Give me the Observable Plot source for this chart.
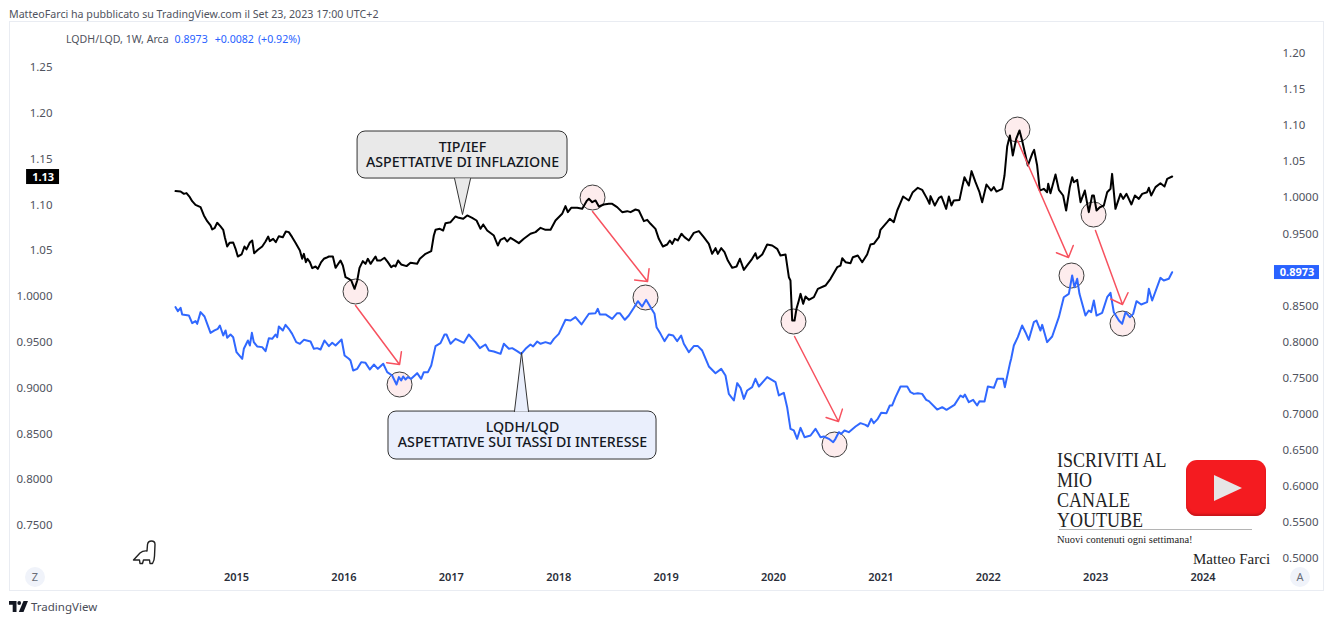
<!DOCTYPE html>
<html><head><meta charset="utf-8">
<script src="https://cdn.jsdelivr.net/npm/d3@7"></script>
<script src="https://cdn.jsdelivr.net/npm/@observablehq/plot@0.6"></script>
<style>
html,body{margin:0;padding:0;background:#fff;width:1332px;height:623px;overflow:hidden}
body{position:relative;font-family:"Noto Sans",sans-serif}
.abs{position:absolute;white-space:nowrap}
#chart{position:absolute;left:10px;top:22px;width:1313px;height:568px;outline:1px solid #e9ecf2}
#chart svg{display:block}
.serif{font-family:"Liberation Serif",serif;color:#222}
.round{width:20px;height:20px;border-radius:50%;background:#f0f3fa;color:#6a6d78;font-size:11px;text-align:center;line-height:20px}
</style></head><body>
<div class="abs" style="left:9px;top:6px;font-size:10.65px;line-height:16px;color:#50535e">MatteoFarci ha pubblicato su TradingView.com il Set 23, 2023 17:00 UTC+2</div>
<div id="chart"></div>
<div class="abs" style="left:66px;top:31px;font-size:10.6px;line-height:16px;color:#50535e">LQDH/LQD, 1W, Arca<span style="color:#2962ff;margin-left:6px">0.8973</span><span style="color:#2962ff;margin-left:7px">+0.0082</span><span style="color:#2962ff;margin-left:4px">(+0.92%)</span></div>
<div class="abs round" style="left:25px;top:567px">Z</div>
<div class="abs round" style="left:1290px;top:567px">A</div>
<svg class="abs" style="left:132px;top:540px" width="26" height="26" viewBox="0 0 26 26" fill="none" stroke="#222" stroke-width="1.4" stroke-linejoin="round"><path d="M1.5 20 L8 13 Q11 10.5 15 11 L15.5 4.5 Q16 1 19.5 1 Q23 1 23 4.5 L22.5 16 Q22.5 20 20.5 23.5 L18 23.5 L17.5 20 L11.5 20 L10.5 23.5 L8 23.5 L7.5 20 Z"/></svg>
<div class="abs serif" style="left:1057px;top:450px;font-size:20px;line-height:20px;transform:scaleX(.9);transform-origin:left top">ISCRIVITI AL<br>MIO<br>CANALE<br>YOUTUBE</div>
<div class="abs" style="left:1059px;top:529px;width:193px;height:1px;background:#b4b4b4"></div>
<div class="abs serif" style="left:1057px;top:533px;font-size:10.5px;line-height:14px">Nuovi contenuti ogni settimana!</div>
<div class="abs serif" style="left:1193px;top:550px;font-size:15px;line-height:18px">Matteo Farci</div>
<div class="abs" style="left:1186px;top:460px;width:80px;height:56px;border-radius:11px;background:#f41b20;box-shadow:inset 0 -2px 2px #c9151a"></div>
<div class="abs" style="left:1214px;top:475px;width:28px;height:26px;background:#e6e6e6;clip-path:polygon(0 0,100% 50%,0 100%)"></div>
<svg class="abs" style="left:9px;top:601px" width="19" height="11" viewBox="0 0 19 11" fill="#131722"><path d="M0 0H7.5V11H3.7V3.7H0Z"/><circle cx="10.2" cy="2" r="1.9"/><path d="M14.5 0H19L14.5 11H9.8Z"/></svg>
<div class="abs" style="left:31px;top:598px;font-size:11.5px;line-height:17px;color:#4a4d58">TradingView</div>
<script>
const blackYears=[2014.432,2014.479,2014.510,2014.534,2014.565,2014.587,2014.618,2014.665,2014.696,2014.727,2014.758,2014.773,2014.795,2014.820,2014.851,2014.876,2014.891,2014.913,2014.935,2014.969,2014.991,2015.012,2015.047,2015.074,2015.093,2015.124,2015.146,2015.164,2015.199,2015.239,2015.270,2015.295,2015.310,2015.341,2015.366,2015.394,2015.431,2015.459,2015.487,2015.518,2015.549,2015.590,2015.611,2015.627,2015.646,2015.661,2015.683,2015.705,2015.736,2015.757,2015.788,2015.813,2015.835,2015.860,2015.897,2015.922,2015.968,2015.990,2016.015,2016.046,2016.068,2016.099,2016.124,2016.145,2016.176,2016.201,2016.223,2016.248,2016.294,2016.310,2016.341,2016.378,2016.409,2016.440,2016.465,2016.480,2016.505,2016.533,2016.583,2016.620,2016.682,2016.707,2016.760,2016.813,2016.837,2016.853,2016.893,2016.924,2016.946,2016.993,2017.039,2017.070,2017.111,2017.148,2017.194,2017.235,2017.272,2017.297,2017.334,2017.396,2017.433,2017.458,2017.495,2017.520,2017.551,2017.582,2017.629,2017.675,2017.737,2017.784,2017.831,2017.877,2017.924,2017.970,2018.032,2018.063,2018.085,2018.116,2018.172,2018.219,2018.259,2018.281,2018.312,2018.343,2018.374,2018.420,2018.467,2018.498,2018.544,2018.591,2018.638,2018.669,2018.715,2018.746,2018.793,2018.824,2018.855,2018.901,2018.932,2018.970,2019.010,2019.035,2019.057,2019.081,2019.109,2019.143,2019.171,2019.212,2019.258,2019.305,2019.351,2019.398,2019.429,2019.460,2019.482,2019.513,2019.544,2019.575,2019.615,2019.656,2019.687,2019.724,2019.755,2019.801,2019.832,2019.848,2019.895,2019.941,2019.988,2020.034,2020.065,2020.112,2020.143,2020.158,2020.174,2020.196,2020.214,2020.236,2020.252,2020.276,2020.298,2020.329,2020.376,2020.413,2020.484,2020.531,2020.593,2020.624,2020.640,2020.671,2020.717,2020.739,2020.785,2020.826,2020.872,2020.903,2020.934,2020.981,2020.996,2021.058,2021.083,2021.120,2021.152,2021.189,2021.207,2021.260,2021.297,2021.344,2021.384,2021.431,2021.453,2021.462,2021.502,2021.540,2021.564,2021.608,2021.633,2021.657,2021.679,2021.732,2021.757,2021.778,2021.819,2021.844,2021.881,2021.918,2021.943,2021.983,2022.027,2022.052,2022.076,2022.129,2022.151,2022.176,2022.201,2022.213,2022.228,2022.260,2022.291,2022.315,2022.340,2022.368,2022.409,2022.427,2022.455,2022.480,2022.517,2022.548,2022.558,2022.579,2022.626,2022.657,2022.697,2022.725,2022.759,2022.781,2022.797,2022.828,2022.859,2022.899,2022.936,2022.967,2022.983,2023.008,2023.039,2023.076,2023.107,2023.138,2023.153,2023.184,2023.231,2023.256,2023.287,2023.333,2023.365,2023.402,2023.433,2023.479,2023.495,2023.517,2023.557,2023.603,2023.641,2023.666,2023.712];
const blackValues=[1.1151,1.1147,1.1121,1.1129,1.1085,1.1041,1.1001,1.0976,1.0885,1.0823,1.0776,1.0732,1.0746,1.0805,1.0765,1.0728,1.0648,1.0546,1.0586,1.0590,1.0521,1.0437,1.0459,1.0546,1.0514,1.0590,1.0612,1.0473,1.0510,1.0546,1.0601,1.0655,1.0605,1.0630,1.0594,1.0659,1.0648,1.0710,1.0703,1.0648,1.0586,1.0503,1.0412,1.0466,1.0375,1.0412,1.0375,1.0310,1.0328,1.0302,1.0375,1.0412,1.0423,1.0437,1.0437,1.0313,1.0393,1.0339,1.0211,1.0193,1.0175,1.0084,1.0175,1.0313,1.0386,1.0357,1.0412,1.0357,1.0437,1.0393,1.0393,1.0423,1.0375,1.0321,1.0339,1.0328,1.0393,1.0350,1.0332,1.0368,1.0357,1.0412,1.0466,1.0495,1.0666,1.0728,1.0739,1.0721,1.0801,1.0812,1.0874,1.0859,1.0848,1.0885,1.0859,1.0830,1.0739,1.0787,1.0721,1.0666,1.0557,1.0619,1.0641,1.0601,1.0641,1.0619,1.0583,1.0630,1.0685,1.0703,1.0750,1.0728,1.0728,1.0830,1.0903,1.0987,1.0921,1.0968,1.0968,1.0958,1.1041,1.1067,1.1030,1.1049,1.0983,1.1005,1.1012,1.1012,1.0976,1.0921,1.0932,1.0921,1.0950,1.0939,1.0823,1.0837,1.0794,1.0739,1.0630,1.0546,1.0568,1.0612,1.0575,1.0630,1.0612,1.0685,1.0648,1.0612,1.0695,1.0714,1.0648,1.0575,1.0466,1.0528,1.0466,1.0528,1.0484,1.0393,1.0313,1.0328,1.0412,1.0291,1.0339,1.0412,1.0473,1.0412,1.0459,1.0568,1.0557,1.0521,1.0448,1.0459,1.0211,1.0175,0.9738,0.9738,0.9866,0.9957,1.0029,0.9920,1.0000,0.9964,0.9993,1.0084,1.0120,1.0193,1.0320,1.0338,1.0418,1.0375,1.0364,1.0429,1.0448,1.0375,1.0459,1.0568,1.0575,1.0648,1.0728,1.0812,1.0848,1.0812,1.0939,1.1041,1.1092,1.1048,1.1139,1.1187,1.1165,1.1066,1.1012,1.1096,1.0994,1.1077,1.1092,1.0957,1.1092,1.0994,1.1048,1.1055,1.1194,1.1303,1.1212,1.1369,1.1248,1.1139,1.1030,1.1223,1.1157,1.1194,1.1146,1.1176,1.1321,1.1638,1.1758,1.1667,1.1540,1.1722,1.1813,1.1703,1.1576,1.1430,1.1558,1.1601,1.1430,1.1157,1.1176,1.1139,1.1230,1.1128,1.1332,1.1165,1.1103,1.0939,1.1194,1.1303,1.1248,1.1274,1.1030,1.1157,1.0921,1.1103,1.1103,1.0939,1.0975,1.0994,1.1139,1.1176,1.1339,1.0957,1.1121,1.1066,1.1121,1.1005,1.1103,1.1066,1.1121,1.1139,1.1187,1.1103,1.1194,1.1237,1.1201,1.1285,1.1310];
const blueYears=[2014.432,2014.454,2014.479,2014.494,2014.556,2014.587,2014.618,2014.634,2014.665,2014.702,2014.727,2014.758,2014.795,2014.826,2014.845,2014.876,2014.898,2014.913,2014.944,2014.969,2015.000,2015.053,2015.068,2015.106,2015.124,2015.143,2015.161,2015.192,2015.239,2015.270,2015.301,2015.332,2015.363,2015.379,2015.394,2015.431,2015.456,2015.487,2015.518,2015.556,2015.590,2015.627,2015.689,2015.720,2015.751,2015.782,2015.819,2015.860,2015.891,2015.922,2015.978,2016.006,2016.046,2016.061,2016.086,2016.124,2016.161,2016.201,2016.241,2016.279,2016.316,2016.366,2016.403,2016.449,2016.490,2016.512,2016.533,2016.552,2016.574,2016.595,2016.626,2016.682,2016.719,2016.744,2016.782,2016.813,2016.853,2016.899,2016.937,2016.955,2016.993,2017.039,2017.117,2017.163,2017.225,2017.266,2017.318,2017.350,2017.396,2017.458,2017.489,2017.536,2017.567,2017.613,2017.651,2017.691,2017.737,2017.762,2017.800,2017.831,2017.877,2017.924,2017.955,2018.001,2018.063,2018.110,2018.156,2018.212,2018.281,2018.343,2018.364,2018.383,2018.436,2018.498,2018.544,2018.569,2018.616,2018.653,2018.700,2018.737,2018.777,2018.814,2018.855,2018.892,2018.911,2018.948,2018.985,2019.025,2019.066,2019.103,2019.140,2019.165,2019.212,2019.258,2019.296,2019.336,2019.398,2019.460,2019.513,2019.553,2019.584,2019.631,2019.662,2019.693,2019.724,2019.755,2019.801,2019.832,2019.864,2019.941,2020.019,2020.050,2020.096,2020.127,2020.158,2020.189,2020.220,2020.252,2020.289,2020.345,2020.391,2020.438,2020.469,2020.515,2020.556,2020.577,2020.608,2020.630,2020.661,2020.701,2020.764,2020.810,2020.857,2020.878,2020.910,2020.934,2020.971,2021.003,2021.052,2021.083,2021.105,2021.136,2021.183,2021.245,2021.276,2021.307,2021.344,2021.384,2021.422,2021.447,2021.524,2021.571,2021.611,2021.685,2021.741,2021.766,2021.782,2021.819,2021.859,2021.896,2021.918,2021.965,2021.996,2022.052,2022.083,2022.139,2022.154,2022.201,2022.213,2022.238,2022.275,2022.315,2022.346,2022.377,2022.424,2022.449,2022.486,2022.502,2022.548,2022.595,2022.657,2022.703,2022.750,2022.781,2022.803,2022.828,2022.849,2022.905,2022.936,2022.958,2022.983,2023.008,2023.060,2023.107,2023.138,2023.169,2023.216,2023.247,2023.278,2023.318,2023.349,2023.380,2023.424,2023.479,2023.495,2023.526,2023.603,2023.634,2023.681,2023.712];
const blueValues=[0.8484,0.8429,0.8475,0.8383,0.8369,0.8262,0.8290,0.8253,0.8415,0.8355,0.8253,0.8128,0.8161,0.8184,0.8230,0.8091,0.8161,0.8059,0.8105,0.8068,0.7860,0.7768,0.7907,0.8022,0.7953,0.8128,0.7999,0.7939,0.7930,0.7874,0.8054,0.8045,0.8105,0.8068,0.8216,0.8161,0.8239,0.8184,0.8114,0.7999,0.7976,0.8031,0.8008,0.7907,0.7916,0.7897,0.8022,0.7944,0.7990,0.7953,0.8036,0.7814,0.7768,0.7745,0.7606,0.7629,0.7722,0.7712,0.7620,0.7689,0.7629,0.7699,0.7583,0.7537,0.7412,0.7514,0.7468,0.7523,0.7481,0.7514,0.7491,0.7569,0.7491,0.7583,0.7583,0.7676,0.7944,0.7985,0.8105,0.8105,0.7976,0.8045,0.7990,0.8105,0.7999,0.7916,0.7967,0.7883,0.7870,0.7837,0.7976,0.7907,0.7916,0.7874,0.7837,0.7907,0.7967,0.7939,0.8008,0.7976,0.7999,0.7976,0.8045,0.8114,0.8309,0.8299,0.8346,0.8244,0.8392,0.8401,0.8461,0.8383,0.8383,0.8322,0.8401,0.8401,0.8309,0.8369,0.8475,0.8567,0.8493,0.8586,0.8484,0.8392,0.8207,0.8114,0.8013,0.8105,0.8091,0.8013,0.8091,0.7976,0.7860,0.7944,0.7944,0.7883,0.7662,0.7569,0.7629,0.7537,0.7283,0.7190,0.7431,0.7366,0.7213,0.7329,0.7375,0.7491,0.7384,0.7514,0.7445,0.7260,0.7297,0.7098,0.6798,0.6775,0.6659,0.6811,0.6682,0.6705,0.6798,0.6682,0.6691,0.6659,0.6612,0.6659,0.6751,0.6728,0.6774,0.6751,0.6830,0.6876,0.6853,0.6830,0.6936,0.6876,0.6936,0.7019,0.7014,0.7121,0.7121,0.7236,0.7384,0.7384,0.7306,0.7282,0.7292,0.7282,0.7199,0.7181,0.7065,0.7098,0.7061,0.7130,0.7259,0.7236,0.7273,0.7167,0.7199,0.7121,0.7181,0.7176,0.7384,0.7366,0.7490,0.7490,0.7375,0.7698,0.7768,0.7952,0.8068,0.8230,0.8137,0.8031,0.8276,0.8299,0.8160,0.8239,0.7999,0.8077,0.8345,0.8622,0.8669,0.8923,0.8761,0.8877,0.8669,0.8368,0.8438,0.8414,0.8576,0.8368,0.8405,0.8622,0.8682,0.8414,0.8299,0.8253,0.8414,0.8345,0.8391,0.8567,0.8521,0.8553,0.8738,0.8576,0.8890,0.8853,0.8877,0.8969];
const yearTicks=[2015,2016,2017,2018,2019,2020,2021,2022,2023,2024];
const rightTicks=[1.20,1.15,1.10,1.05,1.00,0.95,0.85,0.80,0.75,0.70,0.65,0.60,0.55,0.50];
const leftTicks=[1.25,1.20,1.15,1.10,1.05,1.00,0.95,0.90,0.85,0.80,0.75];
// the left price scale expressed on the right one
const leftAtOne=0.86315, leftSlope=1.26976;
const toRight=v=>leftAtOne+(v-1)*leftSlope;
const fromRight=v=>(v-leftAtOne)/leftSlope+1;
const fmt=v=>v>1.001?v.toFixed(2):v.toFixed(4);

const circleYears=[2016.108,2016.518,2018.315,2018.808,2020.186,2020.568,2022.272,2022.775,2022.980,2023.250];
const circleValues=[0.8701,0.7412,1.0004,0.8618,0.8285,0.6580,1.0946,0.8923,0.9768,0.8257];
const arrowFromYears=[2016.108,2018.315,2020.196,2022.272,2022.998];
const arrowFromValues=[0.8507,0.9810,0.8077,1.0794,0.9546];
const arrowToYears=[2016.518,2018.827,2020.605,2022.747,2023.250];
const arrowToValues=[0.7689,0.8839,0.6899,0.9172,0.8521];
const i=a=>a.map((_,k)=>k);
const black=blackYears.map((x,k)=>({x,y:toRight(blackValues[k])}));
const blue=blueYears.map((x,k)=>({x,y:blueValues[k]}));
const greyTail=[{x:2017.030,y:1.0267},{x:2017.104,y:0.9768},{x:2017.179,y:1.0267}];
const blueTail=[{x:2017.588,y:0.7037},{x:2017.654,y:0.7855},{x:2017.719,y:0.7037}];
const labelFont={fontSize:14.2,fontWeight:500,fill:"#131722",fontFamily:"Noto Sans",lineHeight:1.06};
const fig=Plot.plot({
  width:1313,height:568,marginLeft:44,marginRight:43,marginTop:0,marginBottom:25,
  style:{fontFamily:"Noto Sans",fontSize:"11.5px",color:"#50535e",background:"transparent",overflow:"visible"},
  x:{type:"linear",domain:[2013.305,2024.721]},
  y:{type:"linear",domain:[0.4903,1.2430]},
  marks:[
    Plot.axisY(rightTicks,{anchor:"right",tickSize:0,tickPadding:2,tickFormat:fmt,label:null,fontSize:11.5}),
    Plot.axisY(leftTicks.map(toRight),{anchor:"left",tickSize:0,tickPadding:2,tickFormat:v=>fmt(fromRight(v)),label:null,fontSize:11.5}),
    Plot.axisX(yearTicks,{anchor:"bottom",tickSize:0,tickPadding:8,tickFormat:d=>String(d),label:null,fontSize:11,fontWeight:600,color:"#2a2e39"}),
    Plot.dot(i(circleYears),{x:k=>circleYears[k],y:k=>circleValues[k],r:12.5,fill:"#fdeced",stroke:"#3c3c3c",strokeWidth:1}),
    Plot.line(black,{x:"x",y:"y",stroke:"#000",strokeWidth:2}),
    Plot.line(blue,{x:"x",y:"y",stroke:"#3068ff",strokeWidth:2}),
    Plot.arrow(i(arrowToYears),{x1:k=>arrowFromYears[k],y1:k=>arrowFromValues[k],x2:k=>arrowToYears[k],y2:k=>arrowToValues[k],stroke:"#f7525f",strokeWidth:1.5,bend:0,headLength:13,headAngle:90}),
    Plot.rect([0],{x1:2016.127,x2:2018.082,y1:1.0267,y2:1.0919,rx:8,fill:"#e9e9e9",stroke:"#333",strokeWidth:1}),
    Plot.line(greyTail,{x:"x",y:"y",fill:"#e9e9e9",stroke:"#333",strokeWidth:1}),
    Plot.text(["TIP/IEF\nASPETTATIVE DI INFLAZIONE"],{x:2017.104,y:1.0593,text:d=>d,...labelFont}),
    Plot.rect([0],{x1:2016.415,x2:2018.911,y1:0.6372,y2:0.7037,rx:8,fill:"#eaeffc",stroke:"#333",strokeWidth:1}),
    Plot.line(blueTail,{x:"x",y:"y",fill:"#eaeffc",stroke:"#333",strokeWidth:1}),
    Plot.text(["LQDH/LQD\nASPETTATIVE SUI TASSI DI INTERESSE"],{x:2017.663,y:0.6712,text:d=>d,...labelFont}),
    Plot.rect([0],{x1:2013.045,x2:2013.352,y1:1.0184,y2:1.0392,fill:"#000"}),
    Plot.text(["1.13"],{x:2013.199,y:1.0288,text:d=>d,fill:"#fff",fontSize:11,fontWeight:700}),
    Plot.rect([0],{x1:2024.665,x2:2025.084,y1:0.8867,y2:0.9061,fill:"#2962ff"}),
    Plot.text(["0.8973"],{x:2024.875,y:0.8964,text:d=>d,fill:"#fff",fontSize:11,fontWeight:700})
  ]
});
document.getElementById("chart").appendChild(fig);
</script>
</body></html>
